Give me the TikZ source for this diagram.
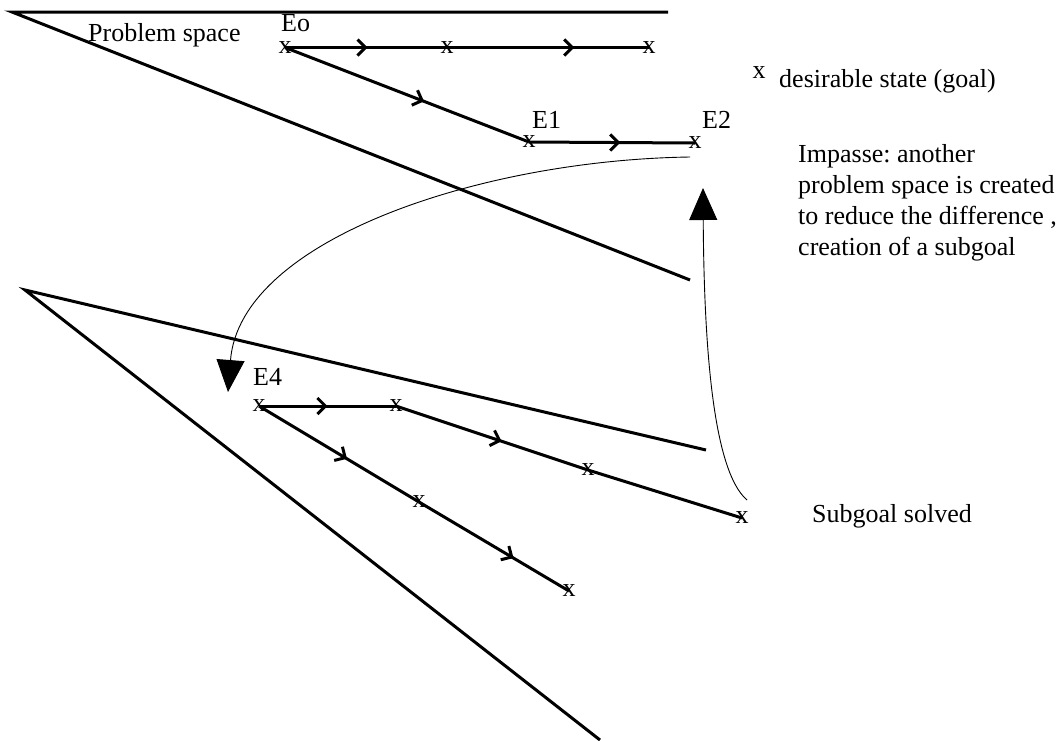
\documentclass[tikz,border=0pt]{standalone}
\usepackage{fontspec}
\setmainfont{Liberation Serif}
\usetikzlibrary{arrows.meta,decorations.markings}
\frenchspacing

\begin{document}
\begin{tikzpicture}[x=1pt, y=-1pt,
    every node/.style={font=\fontsize{26}{31}\selectfont, inner sep=0pt},
    edge/.style={line width=3pt},
    midarr/.style={postaction={decorate, decoration={markings, mark=at position #1 with {\arrow{Straight Barb[length=8pt,width=16pt]}}}}},
    bigarr/.style={line width=0.9pt, -{Triangle[length=32pt,width=28pt]}}]
    \useasboundingbox (0,0) rectangle (1061,740);

    % Problem spaces
    \draw[edge] (668,12) -- (12,12) -- (690,280);
    \draw[edge] (706,450) -- (25,290) -- (600,740);

    % States
    \node (eo) at (285,47.5) {x};
    \node (xa) at (447,47.5) {x};
    \node (xb) at (649,47.5) {x};
    \node (e1) at (529,142) {x};
    \node (e2) at (695,143) {x};
    \node (e4) at (259,406) {x};
    \node (xc) at (396,406) {x};
    \node (xd) at (588,470) {x};
    \node (xs) at (742,518) {x};
    \node (xe) at (419,502) {x};
    \node (xf) at (569,591) {x};

    % Labels
    \node[anchor=base west] (lblps) at (88,41) {Problem space};
    \node[anchor=base west] (lbleo) at (281,31) {Eo};
    \node[anchor=base west] (lble1) at (532,128) {E1};
    \node[anchor=base west] (lble2) at (702,128) {E2};
    \node[anchor=base west] (lble4) at (253,385) {E4};
    \node (legx) at (759,73) {x};
    \node[anchor=base west] (legtxt) at (779,87) {desirable state (goal)};
    \node[anchor=north west, align=left] (impasse) at (798,144) {Impasse: another\\problem space is created\\to reduce the difference ,\\creation of a subgoal};
    \node[anchor=base west] (solved) at (812,522) {Subgoal solved};

    % Operators
    \draw[edge, midarr=0.51] (eo.center) -- (xa.center);
    \draw[edge, midarr=0.63] (xa.center) -- (xb.center);
    \draw[edge, midarr=0.57] (eo.center) -- (e1.center);
    \draw[edge, midarr=0.55] (e1.center) -- (e2.center);
    \draw[edge, midarr=0.50] (e4.center) -- (xc.center);
    \draw[edge, midarr=0.55] (xc.center) -- (xd.center);
    \draw[edge] (xd.center) -- (xs.center);
    \draw[edge, midarr=0.55] (e4.center) -- (xe.center);
    \draw[edge, midarr=0.63] (xe.center) -- (xf.center);

    % Impasse and return
    \coordinate (impstart) at (690,157);
    \coordinate (impend) at (228,392);
    \coordinate (retstart) at (747,500);
    \coordinate (retend) at (703,188);
    \draw[bigarr] (impstart) .. controls (480,160) and (240,240) .. (impend);
    \draw[bigarr] (retstart) .. controls (712,470) and (704,340) .. (retend);
\end{tikzpicture}
\end{document}
